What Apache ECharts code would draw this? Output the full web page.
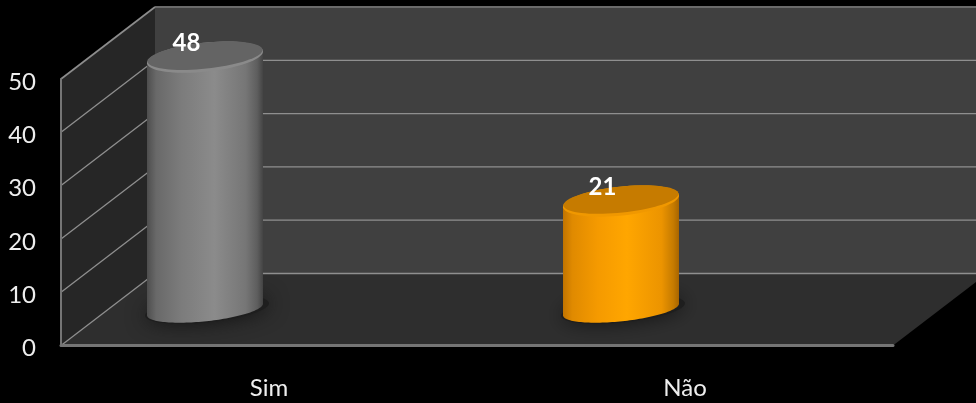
<!DOCTYPE html>
<html>
<head>
<meta charset="utf-8">
<style>html,body{margin:0;padding:0;background:#000}#c{width:976px;height:403px}</style>
<script src="https://cdn.jsdelivr.net/npm/echarts@6/dist/echarts.min.js"></script>
</head>
<body>
<div id="c"></div>
<script>
const categories = ['Sim', 'Não'];
const values = [48, 21];
const yTicks = [0, 10, 20, 30, 40, 50];

const FONT = 'Lato, "Open Sans", sans-serif';
const DX = 94, DY = -72;          // depth of the 3D box
const OFFX = -64, OFFYT = -32.5, OFFYB = -36;  // cylinder placement in the box
const RX = 58.3, RYT = 14.5, RYB = 11.8, TILT = 6 * Math.PI / 180;

const palettes = [
  { body: [[0,'#4e4e4e'],[0.08,'#696969'],[0.3,'#7c7c7c'],[0.58,'#8b8b8b'],[0.85,'#767676'],[0.95,'#5e5e5e'],[1,'#444444']],
    top: '#646464', rim: '#8a8a8a' },
  { body: [[0,'#c27400'],[0.08,'#e08a00'],[0.3,'#f59a00'],[0.55,'#ffa600'],[0.85,'#ec9400'],[0.95,'#c67b00'],[1,'#a86500']],
    top: '#c67b00', rim: '#f09800' }
];

function ellipsePts(cx, cy, rx, ry, from, to) {
  const pts = [];
  for (let i = 0; i <= 72; i++) {
    const a = from + (to - from) * i / 72;
    const ex = rx * Math.cos(a), ey = ry * Math.sin(a);
    pts.push([cx + ex * Math.cos(TILT) + ey * Math.sin(TILT),
              cy - ex * Math.sin(TILT) + ey * Math.cos(TILT)]);
  }
  return pts;
}
function hGrad(stops) {
  return { type: 'linear', x: 0, y: 0, x2: 1, y2: 0,
    colorStops: stops.map(s => ({ offset: s[0], color: s[1] })) };
}

function renderWalls(params, api) {
  const cs = params.coordSys;
  const L = cs.x, R = cs.x + cs.width;
  const y0 = api.coord([0, 0])[1], yT = api.coord([0, 50])[1];
  const poly = (points, fill) => ({ type: 'polygon', shape: { points }, style: { fill } });
  const edge = (x1, y1, x2, y2) => ({ type: 'line', shape: { x1, y1, x2, y2 },
    style: { stroke: '#6a6a6a', lineWidth: 2 } });
  return { type: 'group', children: [
    poly([[L+DX,yT+DY],[R+DX,yT+DY],[R+DX,y0+DY],[L+DX,y0+DY]], '#404040'),
    poly([[L,yT],[L+DX,yT+DY],[L+DX,y0+DY],[L,y0]], '#262626'),
    poly([[L,y0],[R,y0],[R+DX,y0+DY],[L+DX,y0+DY]], '#2e2e2e'),
    edge(L, yT, L+DX, yT+DY),
    edge(L+DX, yT+DY, R+DX, yT+DY)
  ]};
}

function renderGrid(params, api) {
  const cs = params.coordSys;
  const L = cs.x, R = cs.x + cs.width;
  const v = api.value(1);
  const y = api.coord([0, v])[1];
  const st = { stroke: '#8f8f8f', lineWidth: 1.3 };
  const kids = [{ type: 'line', shape: { x1: L, y1: y, x2: L + DX, y2: y + DY }, style: st }];
  if (v < 50) kids.push({ type: 'line', shape: { x1: L + DX, y1: y + DY, x2: R + DX, y2: y + DY }, style: st });
  return { type: 'group', children: kids };
}

function renderCyl(params, api) {
  const i = params.dataIndex, p = palettes[i];
  const v = api.value(1);
  const base = api.coord([api.value(0), 0]), head = api.coord([api.value(0), v]);
  const cx = base[0] + OFFX;
  const yt = head[1] + OFFYT, yb = base[1] + OFFYB;
  const topLeft = ellipsePts(cx, yt, RX, RYT, Math.PI, Math.PI)[0];
  const topRight = ellipsePts(cx, yt, RX, RYT, 0, 0)[0];
  const body = [topLeft]
    .concat(ellipsePts(cx, yb, RX, RYB, Math.PI, 0))
    .concat([topRight]);
  return { type: 'group', children: [
    { type: 'polygon', shape: { points: ellipsePts(cx + 2, yb, RX + 4, RYB + 1, 0, 2 * Math.PI) },
      style: { fill: '#1e1e1e', shadowBlur: 20, shadowColor: '#141414' } },
    { type: 'polygon', shape: { points: body }, style: { fill: hGrad(p.body) } },
    { type: 'polygon', shape: { points: ellipsePts(cx, yt, RX, RYT, 0, 2 * Math.PI) },
      style: { fill: p.rim } },
    { type: 'polygon', shape: { points: ellipsePts(cx, yt - 1.5, RX - 0.5, RYT - 1.5, 0, 2 * Math.PI) },
      style: { fill: p.top } },
    { type: 'text', style: { text: String(v), x: cx - 18.5, y: yt - 14, align: 'center', verticalAlign: 'middle',
        fill: '#ffffff', font: 'bold 24px ' + FONT } }
  ]};
}

const chart = echarts.init(document.getElementById('c'), null, { renderer: 'canvas' });
chart.setOption({
  backgroundColor: '#000000',
  animation: false,
  grid: { left: 61, right: 83, top: 79, bottom: 57.5, containLabel: false },
  xAxis: {
    type: 'category', data: categories, z: 3,
    axisLine: { show: true, lineStyle: { color: '#757575', width: 3 } },
    axisTick: { show: false },
    axisLabel: { color: '#eeeeee', fontFamily: FONT, fontSize: 24, margin: 31 }
  },
  yAxis: {
    type: 'value', min: 0, max: 50, interval: 10, z: 3,
    axisLine: { show: true, lineStyle: { color: '#757575', width: 2 } },
    axisTick: { show: false },
    splitLine: { show: false },
    axisLabel: { color: '#eeeeee', fontFamily: FONT, fontSize: 24, margin: 25, verticalAlign: 'top', lineHeight: 6 }
  },
  series: [
    { type: 'custom', z: 1, silent: true, clip: false, renderItem: renderWalls, data: [[0, 0]] },
    { type: 'custom', z: 2, silent: true, clip: false, renderItem: renderGrid, data: yTicks.map(t => [0, t]) },
    { type: 'custom', z: 5, silent: true, clip: false, renderItem: renderCyl,
      data: values.map((v, i) => [i, v]) }
  ]
});
</script>
</body>
</html>
